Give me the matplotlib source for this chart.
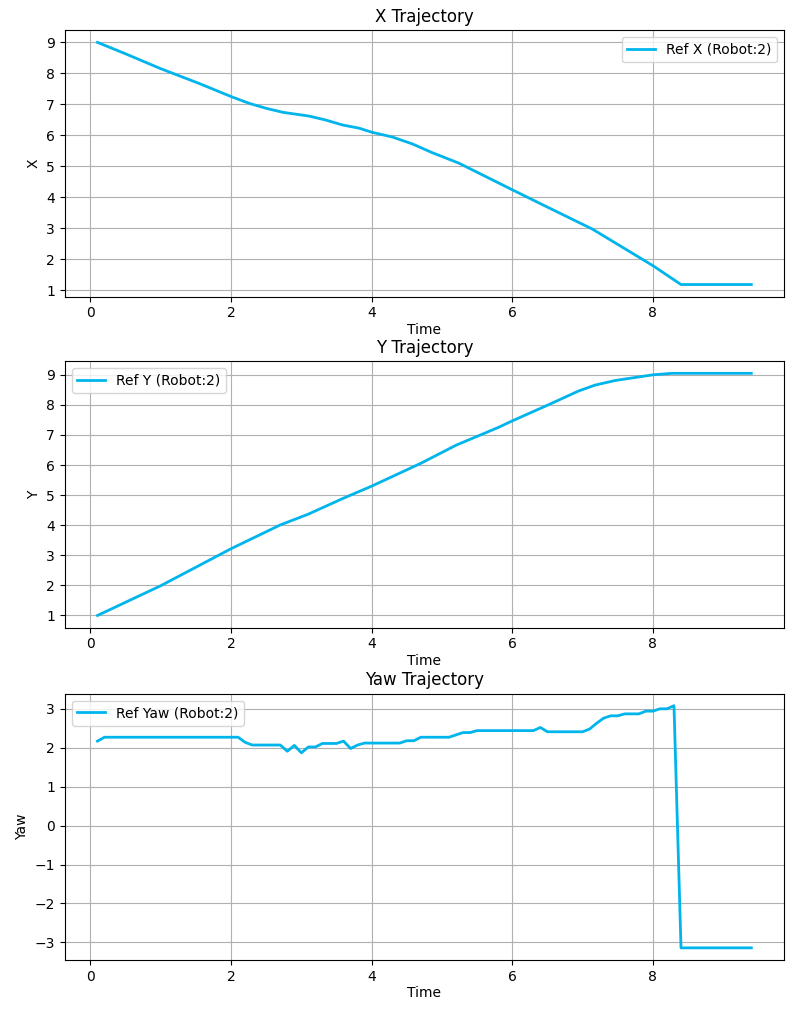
import numpy as np
import matplotlib
matplotlib.use("Agg")
import matplotlib.pyplot as plt

# ==================================
# DATA
# ==================================
t_x = [0.1, 0.5, 1.0, 1.55, 2.0, 2.26, 2.5, 2.74, 3.11, 3.35, 3.59, 3.82,
       4.0, 4.3, 4.58, 4.86, 5.24, 6.0, 6.5, 7.14, 8.0, 8.4, 9.4]
ref_x = [9.0, 8.63, 8.15, 7.67, 7.25, 7.03, 6.87, 6.74, 6.62, 6.49, 6.33,
         6.23, 6.1, 5.94, 5.72, 5.44, 5.1, 4.24, 3.68, 2.97, 1.79, 1.18, 1.18]

t_y = [0.1, 1.0, 2.0, 2.7, 3.1, 3.6, 4.0, 4.7, 5.2, 5.81, 6.0, 6.52,
       6.94, 7.18, 7.46, 7.8, 8.0, 8.27, 9.4]
ref_y = [1.0, 1.99, 3.22, 4.01, 4.37, 4.9, 5.3, 6.06, 6.66, 7.26, 7.47,
         8.01, 8.46, 8.66, 8.81, 8.93, 9.0, 9.05, 9.05]

t_yaw = [0.1, 0.2, 0.3, 0.4, 0.5, 0.6, 0.7, 0.8, 0.9, 1.0,
         1.1, 1.2, 1.3, 1.4, 1.5, 1.6, 1.7, 1.8, 1.9, 2.0,
         2.1, 2.2, 2.3, 2.4, 2.5, 2.6, 2.7, 2.8, 2.9, 3.0,
         3.1, 3.2, 3.3, 3.4, 3.5, 3.6, 3.7, 3.8, 3.9, 4.0,
         4.1, 4.2, 4.3, 4.4, 4.5, 4.6, 4.7, 4.8, 4.9, 5.0,
         5.1, 5.2, 5.3, 5.4, 5.5, 5.6, 5.7, 5.8, 5.9, 6.0,
         6.1, 6.2, 6.3, 6.4, 6.5, 6.6, 6.7, 6.8, 6.9, 7.0,
         7.1, 7.2, 7.3, 7.4, 7.5, 7.6, 7.7, 7.8, 7.9, 8.0,
         8.1, 8.2, 8.3, 8.4, 8.5, 8.6, 8.7, 8.8, 8.9, 9.0,
         9.1, 9.2, 9.3, 9.4]
ref_yaw = [2.17, 2.27, 2.27, 2.27, 2.27, 2.27, 2.27, 2.27, 2.27, 2.27,
           2.27, 2.27, 2.27, 2.27, 2.27, 2.27, 2.27, 2.27, 2.27, 2.27,
           2.27, 2.14, 2.07, 2.07, 2.07, 2.07, 2.07, 1.91, 2.06, 1.87,
           2.02, 2.02, 2.11, 2.11, 2.11, 2.17, 1.98, 2.07, 2.12, 2.12,
           2.12, 2.12, 2.12, 2.12, 2.18, 2.18, 2.27, 2.27, 2.27, 2.27,
           2.27, 2.33, 2.39, 2.39, 2.44, 2.44, 2.44, 2.44, 2.44, 2.44,
           2.44, 2.44, 2.44, 2.52, 2.41, 2.41, 2.41, 2.41, 2.41, 2.41,
           2.48, 2.63, 2.76, 2.82, 2.82, 2.87, 2.87, 2.87, 2.94, 2.94,
           3.0, 3.0, 3.08, -3.14, -3.14, -3.14, -3.14, -3.14, -3.14, -3.14,
           -3.14, -3.14, -3.14, -3.14]

line_color = "#00b4ec"

# ==================================
# PLOTTING
# ==================================
fig = plt.figure(figsize=(8, 10.09), dpi=100)

panels = [
    (t_x, ref_x, "X Trajectory", "X", "Ref X (Robot:2)", "upper right",
     [0.081, 0.706, 0.899, 0.264]),
    (t_y, ref_y, "Y Trajectory", "Y", "Ref Y (Robot:2)", "upper left",
     [0.081, 0.378, 0.899, 0.264]),
    (t_yaw, ref_yaw, "Yaw Trajectory", "Yaw", "Ref Yaw (Robot:2)", "upper left",
     [0.081, 0.0486, 0.899, 0.264]),
]

for t, vals, title, ylab, lab, loc, rect in panels:
    ax = fig.add_axes(rect)
    ax.plot(t, vals, color=line_color, linewidth=2, label=lab)
    ax.set_title(title)
    ax.set_xlabel("Time", labelpad=2)
    ax.set_ylabel(ylab)
    ax.grid(True)
    ax.legend(loc=loc)
    ax.set_xticks([0, 2, 4, 6, 8])

fig.axes[0].set_yticks(range(1, 10))
fig.axes[1].set_yticks(range(1, 10))
fig.axes[2].set_yticks(range(-3, 4))

plt.savefig("out.png", dpi=100)
